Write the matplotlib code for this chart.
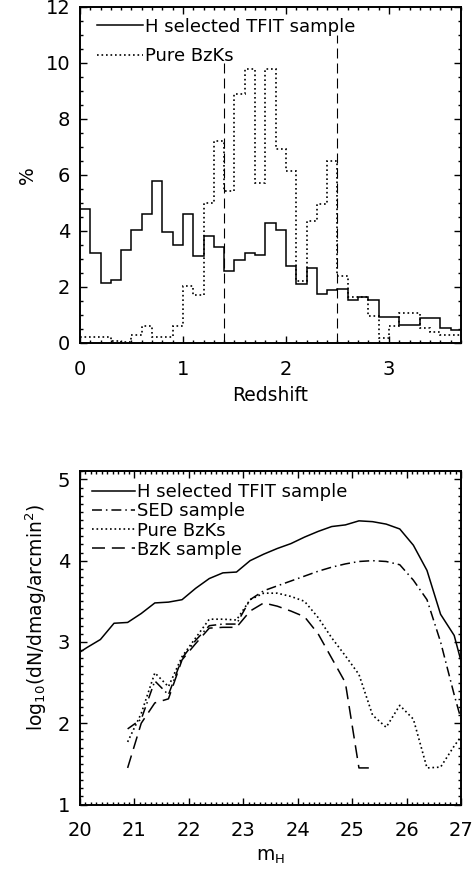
import matplotlib
matplotlib.use("Agg")
import matplotlib.pyplot as plt
import numpy as np
from matplotlib.ticker import MultipleLocator

# --- top panel: redshift histograms (bins of 0.1) ---
z_edges = np.round(np.arange(0.0, 3.71, 0.1), 2)
h_tfit_pct = [4.79, 3.21, 2.16, 2.26, 3.33, 4.05, 4.61, 5.78, 3.95, 3.50,
              4.59, 3.09, 3.81, 3.43, 2.56, 2.97, 3.21, 3.15, 4.29, 4.03,
              2.74, 2.11, 2.68, 1.76, 1.88, 1.92, 1.54, 1.64, 1.54, 0.94,
              0.94, 0.65, 0.65, 0.88, 0.91, 0.53, 0.47]
pure_bzk_pct = [0.20, 0.20, 0.20, 0.08, 0.05, 0.29, 0.59, 0.23, 0.23, 0.59,
                2.02, 1.72, 5.00, 7.22, 5.42, 8.89, 9.78, 5.70, 9.78, 6.92,
                6.14, 2.20, 4.35, 4.95, 6.50, 2.40, 1.66, 1.66, 0.97, 0.17,
                0.59, 1.06, 1.06, 0.53, 0.41, 0.29, 0.29]
z_cuts = [1.4, 2.5]
z_cut_tops = [10.0, 11.0]

# --- bottom panel: number counts vs H magnitude ---
mh_tfit = [19.875, 20.125, 20.375, 20.625, 20.875, 21.125, 21.375, 21.625,
           21.875, 22.125, 22.375, 22.625, 22.875, 23.125, 23.375, 23.625,
           23.875, 24.125, 24.375, 24.625, 24.875, 25.125, 25.375, 25.625,
           25.875, 26.125, 26.375, 26.625, 26.875, 27.125]
logn_tfit = [2.82, 2.93, 3.03, 3.23, 3.24, 3.35, 3.48, 3.49, 3.52, 3.66,
             3.78, 3.85, 3.86, 4.00, 4.08, 4.15, 4.21, 4.29, 4.36, 4.42,
             4.44, 4.49, 4.48, 4.45, 4.39, 4.19, 3.88, 3.34, 3.08, 2.45]

mh_sub = [20.875, 21.125, 21.375, 21.625, 21.875, 22.125, 22.375, 22.625,
          22.875, 23.125, 23.375, 23.625, 23.875, 24.125, 24.375, 24.625,
          24.875, 25.125, 25.375, 25.625, 25.875, 26.125, 26.375, 26.625,
          26.875, 27.125]
logn_sed = [1.93, 2.05, 2.52, 2.35, 2.80, 3.02, 3.20, 3.22, 3.22, 3.52,
            3.63, 3.69, 3.75, 3.81, 3.87, 3.92, 3.96, 3.99, 4.00, 3.99,
            3.95, 3.76, 3.52, 3.00, 2.35, 1.75]
logn_pure = [1.77, 2.12, 2.62, 2.45, 2.82, 3.05, 3.28, 3.28, 3.27, 3.52,
             3.60, 3.60, 3.56, 3.50, 3.30, 3.05, 2.83, 2.60, 2.10, 1.95,
             2.22, 2.05, 1.45, 1.46, 1.72, 1.95]
mh_bzk = mh_sub[:19]
logn_bzk = [1.45, 2.00, 2.25, 2.30, 2.78, 2.98, 3.17, 3.18, 3.18, 3.38,
            3.48, 3.44, 3.38, 3.31, 3.10, 2.80, 2.50, 1.45, 1.45]

plt.rcParams['font.family'] = ['DejaVu Sans']
plt.rcParams['mathtext.fontset'] = 'dejavusans'

fig = plt.figure(figsize=(4.74, 8.69), dpi=100)
ax1 = fig.add_axes([80/474, 1-343/869, 381/474, 336/869])
ax2 = fig.add_axes([80/474, 1-804.5/869, 381/474, 333.8/869])

dot = (0, (1, 1.7))
dash = (0, (8.5, 4.5))
dashdot = (0, (6.5, 2.6, 1, 2.6))

ax1.stairs(h_tfit_pct, z_edges, baseline=None, color='k', lw=1.1,
           label='H selected TFIT sample')
ax1.stairs(pure_bzk_pct, z_edges, baseline=None, color='k', lw=1.2,
           linestyle=dot, label='Pure BzKs')
for zc, top in zip(z_cuts, z_cut_tops):
    ax1.plot([zc, zc], [0, top], color='k', lw=0.8, linestyle=(0, (9, 4.5)))
ax1.set_xlim(0, 3.7)
ax1.set_ylim(0, 12)
ax1.xaxis.set_major_locator(MultipleLocator(1))
ax1.xaxis.set_minor_locator(MultipleLocator(0.1))
ax1.yaxis.set_major_locator(MultipleLocator(2))
ax1.yaxis.set_minor_locator(MultipleLocator(0.5))
ax1.set_xlabel('Redshift', fontsize=13.5, va='center')
ax1.set_ylabel('%', fontsize=13.5, va='center')
ax1.xaxis.set_label_coords(0.5, -0.155)
ax1.yaxis.set_label_coords(-0.1365, 0.5)
ax1.legend(loc='upper left', bbox_to_anchor=(0.045, 0.968), frameon=False,
           fontsize=13, handlelength=2.55, handletextpad=0.1,
           borderpad=0, borderaxespad=0, labelspacing=0.62)

ax2.plot(mh_tfit, logn_tfit, color='k', lw=1.1, label='H selected TFIT sample')
ax2.plot(mh_sub, logn_sed, color='k', lw=1.1, linestyle=dashdot, label='SED sample')
ax2.plot(mh_sub, logn_pure, color='k', lw=1.2, linestyle=dot, label='Pure BzKs')
ax2.plot(mh_bzk, logn_bzk, color='k', lw=1.1, linestyle=dash, label='BzK sample')
ax2.set_xlim(20, 27)
ax2.set_ylim(1, 5.107)
ax2.xaxis.set_major_locator(MultipleLocator(1))
ax2.xaxis.set_minor_locator(MultipleLocator(0.1))
ax2.yaxis.set_major_locator(MultipleLocator(1))
ax2.yaxis.set_minor_locator(MultipleLocator(0.1))
ax2.set_xlabel(r'm$_\mathrm{H}$', fontsize=13.5, va='center')
ax2.set_ylabel(r'log$_{10}$(dN/dmag/arcmin$^2$)', fontsize=13.5, va='center')
ax2.xaxis.set_label_coords(0.5, -0.157)
ax2.yaxis.set_label_coords(-0.115, 0.56)
ax2.legend(loc='upper left', bbox_to_anchor=(0.031, 0.962), frameon=False,
           fontsize=13, handlelength=2.4, handletextpad=0.1,
           borderpad=0, borderaxespad=0, labelspacing=0.06)

for ax in (ax1, ax2):
    for sp in ax.spines.values():
        sp.set_linewidth(1.4)
    ax.tick_params(which='both', direction='in', top=True, right=True,
                   labelsize=14, width=1)
    ax.tick_params(which='major', length=5)
    ax.tick_params(which='minor', length=2.3)
    ax.tick_params(axis='x', which='major', pad=12)
    ax.tick_params(axis='y', which='major', pad=7)

fig.savefig('out.png', dpi=100)
